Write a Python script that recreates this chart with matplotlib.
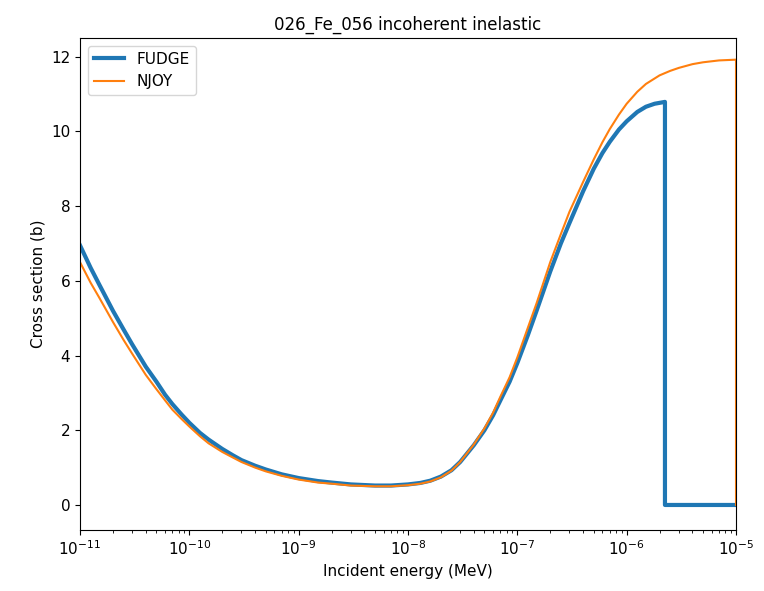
import matplotlib
matplotlib.use("Agg")
import matplotlib.pyplot as plt

fudge_energy = [1e-11, 1.25e-11, 1.5e-11, 2e-11, 2.5e-11, 3e-11, 4e-11, 5e-11, 6e-11, 7e-11,
                8.5e-11, 1e-10, 1.25e-10, 1.5e-10, 2e-10, 2.5e-10, 3e-10, 4e-10, 5e-10, 7e-10,
                1e-9, 1.5e-9, 2e-9, 3e-9, 5e-9, 7e-9, 1e-8, 1.3e-8, 1.6e-8, 2e-8,
                2.5e-8, 3e-8, 4e-8, 5e-8, 6e-8, 7e-8, 8.5e-8, 1e-7, 1.25e-7, 1.5e-7,
                2e-7, 2.5e-7, 3e-7, 4e-7, 5e-7, 6e-7, 7e-7, 8.5e-7, 1e-6, 1.25e-6,
                1.5e-6, 1.8e-6, 2.24e-6, 2.24e-6, 1e-5]
fudge_xs = [6.95, 6.35, 5.9, 5.2, 4.7, 4.3, 3.7, 3.3, 2.95, 2.7,
            2.42, 2.2, 1.93, 1.75, 1.5, 1.33, 1.2, 1.05, 0.95, 0.82,
            0.72, 0.64, 0.6, 0.55, 0.52, 0.52, 0.55, 0.59, 0.65, 0.76,
            0.93, 1.15, 1.6, 2.0, 2.4, 2.8, 3.3, 3.8, 4.55, 5.2,
            6.25, 7.0, 7.55, 8.4, 9.0, 9.42, 9.72, 10.05, 10.27, 10.52,
            10.66, 10.74, 10.79, 0.0, 0.0]

njoy_energy = [1e-11, 1.25e-11, 1.5e-11, 2e-11, 2.5e-11, 3e-11, 4e-11, 5e-11, 6e-11, 7e-11,
               8.5e-11, 1e-10, 1.25e-10, 1.5e-10, 2e-10, 2.5e-10, 3e-10, 4e-10, 5e-10, 7e-10,
               1e-9, 1.5e-9, 2e-9, 3e-9, 5e-9, 7e-9, 1e-8, 1.3e-8, 1.6e-8, 2e-8,
               2.5e-8, 3e-8, 4e-8, 5e-8, 6e-8, 7e-8, 8.5e-8, 1e-7, 1.25e-7, 1.5e-7,
               2e-7, 2.5e-7, 3e-7, 4e-7, 5e-7, 6e-7, 7e-7, 8.5e-7, 1e-6, 1.25e-6,
               1.5e-6, 2e-6, 2.5e-6, 3e-6, 4e-6, 5e-6, 7e-6, 1e-5, 1e-5]
njoy_xs = [6.5, 5.95, 5.55, 4.9, 4.42, 4.05, 3.48, 3.1, 2.8, 2.55,
           2.3, 2.1, 1.84, 1.65, 1.42, 1.27, 1.15, 1.0, 0.9, 0.78,
           0.68, 0.6, 0.57, 0.52, 0.5, 0.5, 0.53, 0.57, 0.63, 0.74,
           0.92, 1.15, 1.62, 2.05, 2.47, 2.9, 3.42, 3.95, 4.75, 5.4,
           6.5, 7.25, 7.85, 8.65, 9.25, 9.71, 10.06, 10.45, 10.74, 11.06,
           11.27, 11.5, 11.62, 11.7, 11.8, 11.85, 11.9, 11.92, 0.0]

fig = plt.figure(figsize=(7.64, 5.91), dpi=100)
ax = fig.add_axes([80/764, 61/591, 656/764, 492/591])
ax.plot(fudge_energy, fudge_xs, color="#1f77b4", linewidth=3, label="FUDGE")
ax.plot(njoy_energy, njoy_xs, color="#ff7f0e", linewidth=1.5, label="NJOY")
ax.set_xscale("log")
ax.set_xlim(1e-11, 1e-5)
ax.set_ylim(-0.67, 12.5)
ax.set_yticks([0, 2, 4, 6, 8, 10, 12])
ax.set_xlabel("Incident energy (MeV)", fontsize=11)
ax.set_ylabel("Cross section (b)", fontsize=11)
ax.set_title("026_Fe_056 incoherent inelastic", fontsize=12)
ax.tick_params(labelsize=11)
ax.legend(loc="upper left", fontsize=11)
fig.savefig("out.png", dpi=100)
